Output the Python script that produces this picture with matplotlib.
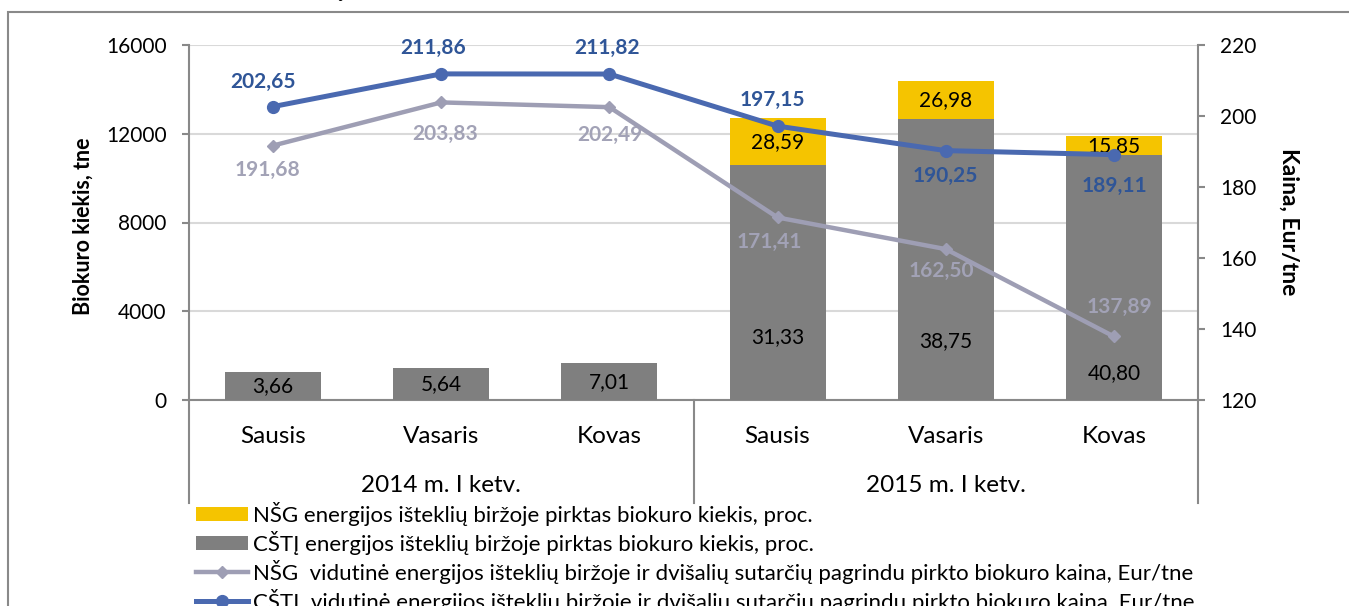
import matplotlib
matplotlib.use("Agg")
import matplotlib.pyplot as plt
from matplotlib.patches import Patch, Rectangle
from matplotlib.lines import Line2D
import matplotlib.transforms as mtransforms

plt.rcParams['font.family'] = ['Lato', 'DejaVu Sans']

# Data
months = ['Sausis', 'Vasaris', 'Kovas', 'Sausis', 'Vasaris', 'Kovas']
quarters = ['2014 m. I ketv.', '2015 m. I ketv.']
csti_kiekis = [1250, 1460, 1650, 10600, 12660, 11030]   # tne
nsg_kiekis = [0, 0, 0, 2090, 1720, 870]                  # tne
csti_proc = [3.66, 5.64, 7.01, 31.33, 38.75, 40.80]
nsg_proc = [None, None, None, 28.59, 26.98, 15.85]
csti_kaina = [202.65, 211.86, 211.82, 197.15, 190.25, 189.11]
nsg_kaina = [191.68, 203.83, 202.49, 171.41, 162.50, 137.89]

# label placement (pixel offsets / manual positions as in the source chart)
csti_proc_y = [None, None, None, 2840, 2660, 1220]
csti_lbl_off = [(-10, 25), (-8, 26), (-2, 26), (-5, 26), (0, -25), (0, -31)]
nsg_lbl_off = [(-6, -24), (4, -32), (0, -28), (-8, -24), (-4, -22), (6, 30)]

YELLOW = '#F5C400'
GRAY = '#7F7F7F'
BLUE = '#4A69B0'
BLUE_TXT = '#2F5597'
LGRAY = '#9E9EB4'
LGRAY_TXT = '#A2A2B6'
AXC = '#898989'


def fmt(v):
    return f"{v:.2f}".replace('.', ',')


fig = plt.figure(figsize=(13.49, 6.06), dpi=100)
W, H = 1349, 606
ax = fig.add_axes([189 / W, 1 - 400 / H, (1198 - 189) / W, (400 - 45) / H])
ax2 = ax.twinx()
ax.set_zorder(1)
ax2.set_zorder(2)
ax.patch.set_visible(False)

x = list(range(len(months)))
ax.bar(x, csti_kiekis, width=0.57, color=GRAY, zorder=3)
ax.bar(x, nsg_kiekis, width=0.57, bottom=csti_kiekis, color=YELLOW, zorder=3)

for i in x:
    y = csti_proc_y[i] if csti_proc_y[i] is not None else csti_kiekis[i] / 2
    ax.text(i, y, fmt(csti_proc[i]), ha='center', va='center', fontsize=15,
            color='black', zorder=5)
    if nsg_proc[i] is not None:
        ax.text(i, csti_kiekis[i] + nsg_kiekis[i] / 2, fmt(nsg_proc[i]),
                ha='center', va='center', fontsize=15, color='black', zorder=5)

ax.set_ylim(0, 16000)
ax.set_yticks([0, 4000, 8000, 12000, 16000])
ax.set_xlim(-0.5, 5.5)
ax.grid(axis='y', color='#D9D9D9', linewidth=1.5, zorder=0)
ax.set_axisbelow(True)

ax2.plot(x, nsg_kaina, color=LGRAY, linewidth=3.2, marker='D', markersize=6, zorder=4)
ax2.plot(x, csti_kaina, color=BLUE, linewidth=3.6, marker='o', markersize=8.5, zorder=4)
ax2.set_ylim(120, 220)
ax2.set_yticks([120, 140, 160, 180, 200, 220])

for i in x:
    ax2.annotate(fmt(csti_kaina[i]), (i, csti_kaina[i]), xytext=csti_lbl_off[i],
                 textcoords='offset pixels', ha='center', va='center',
                 fontsize=15, fontweight='bold', color=BLUE_TXT)
    ax2.annotate(fmt(nsg_kaina[i]), (i, nsg_kaina[i]), xytext=nsg_lbl_off[i],
                 textcoords='offset pixels', ha='center', va='center',
                 fontsize=15, fontweight='bold', color=LGRAY_TXT)

for a in (ax, ax2):
    for s in a.spines.values():
        s.set_visible(False)
ax.spines['left'].set_visible(True)
ax.spines['bottom'].set_visible(True)
ax2.spines['right'].set_visible(True)
for s in (ax.spines['left'], ax.spines['bottom'], ax2.spines['right']):
    s.set_color(AXC)
    s.set_linewidth(1.5)

ax.tick_params(axis='y', length=5, width=1.5, color=AXC, pad=11, labelsize=15)
ax2.tick_params(axis='y', length=5, width=1.5, color=AXC, pad=11, labelsize=15)
ax.set_xticks(x)
ax.set_xticklabels(months)
ax.tick_params(axis='x', length=0, pad=19, labelsize=17.5)

# category group separators and labels
trans = mtransforms.blended_transform_factory(ax.transData, ax.transAxes)
ext = -(503 - 400) / (400 - 45)
for xv in (-0.5, 2.5, 5.5):
    ax.plot([xv, xv], [0, ext], transform=trans, color=AXC, linewidth=1.5,
            clip_on=False, zorder=6)
for gi, q in enumerate(quarters):
    ax.text(gi * 3 + 1, -(485 - 400) / (400 - 45), q, transform=trans,
            ha='center', va='center', fontsize=17.5)

fig.text(83 / W, 1 - 226 / H, 'Biokuro kiekis, tne', rotation=90, ha='center',
         va='center', fontsize=15.5, fontweight='bold')
fig.text(1289 / W, 1 - 222 / H, 'Kaina, Eur/tne', rotation=270, ha='center',
         va='center', fontsize=16.5, fontweight='bold')

# outer chart border (cut off at right and bottom)
fig.patches.append(Rectangle((8 / W, -0.1), 1.2, 1 - 12 / H + 0.1,
                             transform=fig.transFigure, fill=False,
                             edgecolor=AXC, linewidth=1.5))
# remnant of the cut-off title above the chart
fig.text(340 / W, 1 + 3 / H, 'į', ha='center', va='baseline', fontsize=15)

handles = [
    Patch(facecolor=YELLOW, edgecolor='none'),
    Patch(facecolor=GRAY, edgecolor='none'),
    Line2D([], [], color=LGRAY, linewidth=3.2, marker='D', markersize=6),
    Line2D([], [], color=BLUE, linewidth=3.6, marker='o', markersize=8.5),
]
labels = [
    'NŠG energijos išteklių biržoje pirktas biokuro kiekis, proc.',
    'CŠTĮ energijos išteklių biržoje pirktas biokuro kiekis, proc.',
    'NŠG  vidutinė energijos išteklių biržoje ir dvišalių sutarčių pagrindu pirkto biokuro kaina, Eur/tne',
    'CŠTĮ  vidutinė energijos išteklių biržoje ir dvišalių sutarčių pagrindu pirkto biokuro kaina, Eur/tne',
]
fig.legend(handles, labels, loc='upper left', bbox_to_anchor=(196 / W, 1 - 502 / H),
           frameon=False, fontsize=16, handlelength=2.35, handleheight=0.6,
           handletextpad=0.2, labelspacing=0.22, borderpad=0, borderaxespad=0)

fig.savefig('out.png', dpi=100)
